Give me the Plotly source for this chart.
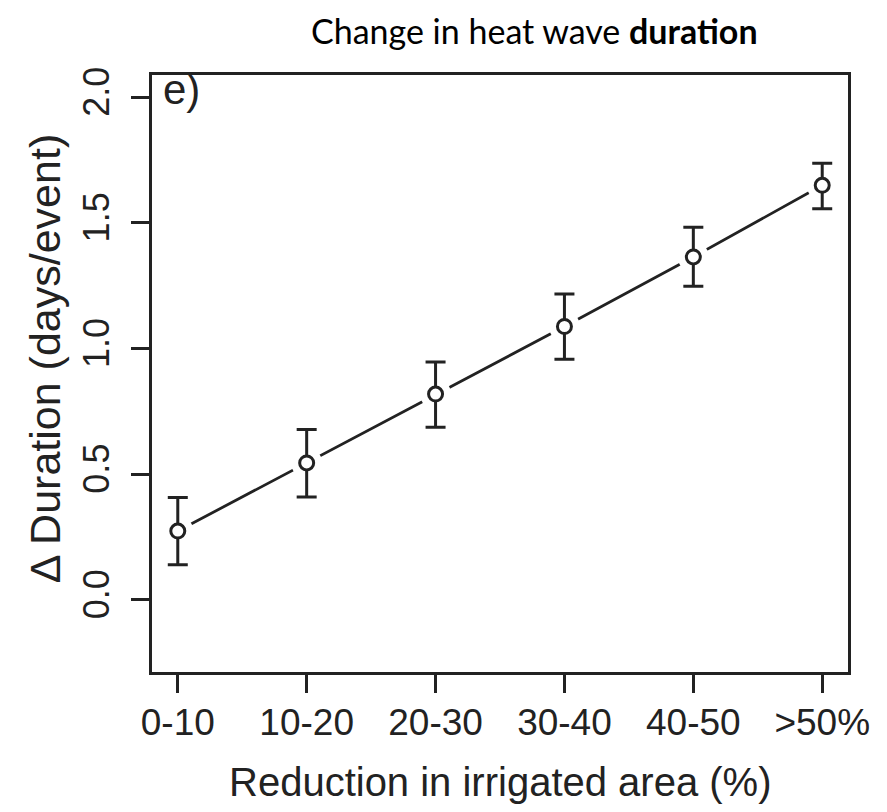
import plotly.graph_objects as go

# ---- data ----
categories = ["0-10", "10-20", "20-30", "30-40", "40-50", ">50%"]
delta_duration = [0.273, 0.544, 0.818, 1.087, 1.364, 1.649]
upper_bound = [0.406, 0.677, 0.946, 1.216, 1.482, 1.737]
lower_bound = [0.139, 0.408, 0.686, 0.957, 1.247, 1.556]
y_tick_values = [0.0, 0.5, 1.0, 1.5, 2.0]
y_tick_labels = ["0.0", "0.5", "1.0", "1.5", "2.0"]

x_pos = list(range(1, len(categories) + 1))
err_plus = [u - v for u, v in zip(upper_bound, delta_duration)]
err_minus = [v - l for v, l in zip(delta_duration, lower_bound)]

INK = "#222222"
FONT = "Liberation Sans, Arial, Helvetica, sans-serif"
TITLE_FONT = "Lato, Open Sans, Noto Sans, sans-serif"

fig = go.Figure()

# connecting line
fig.add_trace(go.Scatter(
    x=x_pos, y=delta_duration, mode="lines",
    line=dict(color=INK, width=2.8), hoverinfo="skip", showlegend=False))

# white halo to create the gaps around points (R type="b")
fig.add_trace(go.Scatter(
    x=x_pos, y=delta_duration, mode="markers",
    marker=dict(symbol="circle", size=31, color="white", line=dict(width=0)),
    hoverinfo="skip", showlegend=False))

# points with error bars
fig.add_trace(go.Scatter(
    x=x_pos, y=delta_duration, mode="markers",
    marker=dict(symbol="circle", size=14, color="white",
                line=dict(color=INK, width=3)),
    error_y=dict(type="data", symmetric=False, array=err_plus,
                 arrayminus=err_minus, color=INK, thickness=3, width=10),
    showlegend=False))

fig.update_xaxes(
    range=[0.8, 6.2], tickmode="array", tickvals=x_pos, ticktext=categories,
    showgrid=False, zeroline=False,
    showline=True, linecolor=INK, linewidth=2.5, mirror=True,
    ticks="outside", ticklen=18, tickwidth=2.5, tickcolor=INK,
    ticklabelstandoff=-2,
    tickfont=dict(family=FONT, size=37, color=INK))

fig.update_yaxes(
    range=[-0.288, 2.088], tickmode="array", tickvals=y_tick_values,
    ticktext=y_tick_labels, tickangle=-90,
    showgrid=False, zeroline=False,
    showline=True, linecolor=INK, linewidth=2.5, mirror=True,
    ticks="outside", ticklen=18, tickwidth=2.5, tickcolor=INK,
    ticklabelstandoff=8,
    tickfont=dict(family=FONT, size=36, color=INK))

# the page body adds an 8px offset, so the figure is made 8px smaller
fig.update_layout(
    width=879, height=804,
    margin=dict(l=144, r=39, t=67, b=140),
    paper_bgcolor="white", plot_bgcolor="white",
    annotations=[
        dict(text="Change in heat wave <b>duration</b>", xref="paper", yref="paper",
             x=0.549, y=1.0, yshift=45, xanchor="center", yanchor="middle",
             showarrow=False, font=dict(family=TITLE_FONT, size=34, color="black")),
        dict(text="e)", xref="paper", yref="paper", x=0.0, y=1.0,
             xshift=9, yshift=11, xanchor="left", yanchor="top",
             showarrow=False, font=dict(family=FONT, size=42, color=INK)),
        dict(text="Reduction in irrigated area (%)", xref="paper", yref="paper",
             x=0.5, y=0.0, yshift=-110, xanchor="center", yanchor="middle",
             showarrow=False, font=dict(family=FONT, size=40, color=INK)),
        dict(text="\u0394 Duration (days/event)", xref="paper", yref="paper",
             x=0.0, y=0.524, xshift=-107, xanchor="center", yanchor="middle",
             textangle=-90, showarrow=False,
             font=dict(family=FONT, size=43, color=INK)),
    ],
)

fig.write_html("out.html")
